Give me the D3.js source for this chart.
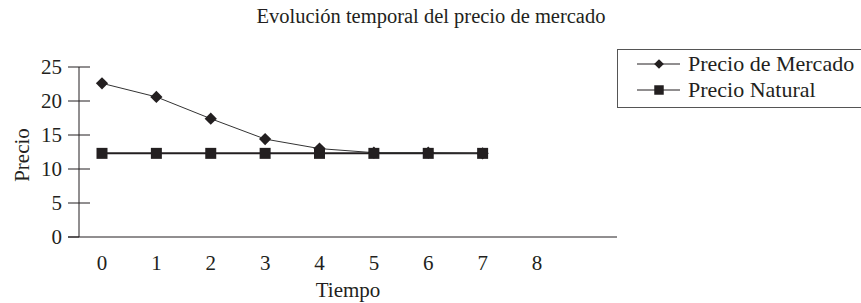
<!DOCTYPE html>
<html>
<head>
<meta charset="utf-8">
<script src="https://cdn.jsdelivr.net/npm/d3@7"></script>
<style>
  body { margin: 0; background: #fff; }
  svg text { font-family: "Liberation Serif", "Times New Roman", Times, serif; fill: #231f20; }
</style>
</head>
<body>
<div id="chart"></div>
<script>
var chart_width = 861,
    chart_height = 303;

// Data
var periods = [0, 1, 2, 3, 4, 5, 6, 7];
var xTickLabels = [0, 1, 2, 3, 4, 5, 6, 7, 8];
var yTickLabels = [0, 5, 10, 15, 20, 25];
var precioMercado = [22.6, 20.6, 17.4, 14.4, 13.0, 12.4, 12.4, 12.3];
var precioNatural = [12.3, 12.3, 12.3, 12.3, 12.3, 12.3, 12.3, 12.3];
var seriesNames = ['Precio de Mercado', 'Precio Natural'];

var ink = '#231f20';

var svg = d3.select('#chart')
    .append('svg')
    .attr('width', chart_width)
    .attr('height', chart_height)
    .attr('font-family', '"Liberation Serif", "Times New Roman", serif');

// Scales
var x = d3.scaleLinear().domain([0, 8]).range([102, 537]);
var y = d3.scaleLinear().domain([0, 25]).range([237, 67]);

// Title
svg.append('text')
    .attr('x', 431)
    .attr('y', 23)
    .attr('text-anchor', 'middle')
    .style('font-size', '20.5px')
    .text('Evolución temporal del precio de mercado');

// Y axis
var yAxis = svg.append('g').attr('class', 'y-axis');
yAxis.append('line')
    .attr('x1', 79).attr('x2', 79)
    .attr('y1', y(25)).attr('y2', y(0))
    .attr('stroke', ink).attr('stroke-width', 1);

yAxis.selectAll('line.tick')
    .data(yTickLabels)
    .enter()
    .append('line')
    .attr('class', 'tick')
    .attr('x1', 68)
    .attr('x2', function (d) { return d === 0 ? 79 : 90; })
    .attr('y1', function (d) { return y(d); })
    .attr('y2', function (d) { return y(d); })
    .attr('stroke', ink).attr('stroke-width', 1);

yAxis.selectAll('text')
    .data(yTickLabels)
    .enter()
    .append('text')
    .attr('x', 62)
    .attr('y', function (d) { return y(d) + 7; })
    .attr('text-anchor', 'end')
    .style('font-size', '21px')
    .text(function (d) { return d; });

svg.append('text')
    .attr('transform', 'translate(29,155) rotate(-90)')
    .attr('text-anchor', 'middle')
    .style('font-size', '21px')
    .text('Precio');

// X axis
var xAxis = svg.append('g').attr('class', 'x-axis');
xAxis.append('line')
    .attr('x1', 68).attr('x2', 617)
    .attr('y1', y(0)).attr('y2', y(0))
    .attr('stroke', ink).attr('stroke-width', 1);

xAxis.selectAll('text')
    .data(xTickLabels)
    .enter()
    .append('text')
    .attr('x', function (d) { return x(d); })
    .attr('y', 270)
    .attr('text-anchor', 'middle')
    .style('font-size', '21px')
    .text(function (d) { return d; });

svg.append('text')
    .attr('x', 348)
    .attr('y', 297)
    .attr('text-anchor', 'middle')
    .style('font-size', '21px')
    .text('Tiempo');

// Lines
var line = d3.line()
    .x(function (d, i) { return x(periods[i]); })
    .y(function (d) { return y(d); });

svg.append('path')
    .attr('d', line(precioNatural))
    .attr('fill', 'none')
    .attr('stroke', ink)
    .attr('stroke-width', 2);

svg.append('path')
    .attr('d', line(precioMercado))
    .attr('fill', 'none')
    .attr('stroke', '#333')
    .attr('stroke-width', 1);

var diamond = d3.symbol().type(d3.symbolDiamond2).size(95);
var square = d3.symbol().type(d3.symbolSquare).size(121);

svg.selectAll('path.natural')
    .data(precioNatural)
    .enter()
    .append('path')
    .attr('class', 'natural')
    .attr('d', square)
    .attr('transform', function (d, i) { return 'translate(' + x(periods[i]) + ',' + y(d) + ')'; })
    .attr('fill', ink);

svg.selectAll('path.mercado')
    .data(precioMercado)
    .enter()
    .append('path')
    .attr('class', 'mercado')
    .attr('d', diamond)
    .attr('transform', function (d, i) { return 'translate(' + x(periods[i]) + ',' + y(d) + ')'; })
    .attr('fill', ink);

// Legend
var legend = svg.append('g').attr('class', 'legend');
legend.append('rect')
    .attr('x', 617.5).attr('y', 49.5)
    .attr('width', 280).attr('height', 58)
    .attr('fill', 'none')
    .attr('stroke', '#555')
    .attr('stroke-width', 1);

var rows = legend.selectAll('g.row')
    .data(seriesNames)
    .enter()
    .append('g')
    .attr('class', 'row')
    .attr('transform', function (d, i) { return 'translate(0,' + (64 + i * 26) + ')'; });

rows.append('line')
    .attr('x1', 637).attr('x2', 680)
    .attr('y1', 0).attr('y2', 0)
    .attr('stroke', ink).attr('stroke-width', 1);

rows.append('path')
    .attr('d', function (d, i) {
        return i === 0 ? d3.symbol().type(d3.symbolDiamond2).size(60)() : d3.symbol().type(d3.symbolSquare).size(90)();
    })
    .attr('transform', 'translate(659,0)')
    .attr('fill', ink);

rows.append('text')
    .attr('x', 688)
    .attr('y', 7)
    .style('font-size', '22px')
    .text(function (d) { return d; });
</script>
</body>
</html>
